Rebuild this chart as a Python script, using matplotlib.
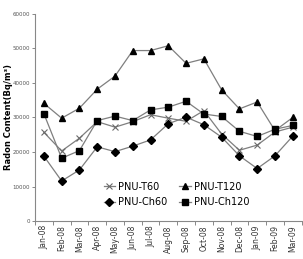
import numpy as np
import matplotlib.pyplot as plt

# Meses
months = ['Jan-08', 'Feb-08', 'Mar-08', 'Apr-08', 'May-08', 'Jun-08', 'Jul-08',
          'Aug-08', 'Sep-08', 'Oct-08', 'Nov-08', 'Dec-08', 'Jan-09', 'Feb-09', 'Mar-09']

# Series (Bq/m3)
t60 = [25700, 20300, 24000, 28800, 27200, 28800, 30800, 29800, 28900, 32000, 25200, 20500, 22000, 25800, 27200]
t120 = [34100, 29800, 32700, 38200, 42000, 49400, 49400, 50800, 45700, 47000, 38000, 32500, 34500, 26200, 30000]
ch60 = [18800, 11600, 14800, 21500, 20100, 21700, 23500, 28200, 30100, 27900, 24300, 18900, 15200, 18900, 24600]
ch120 = [31100, 18200, 20400, 29100, 30400, 29100, 32200, 33000, 34700, 31000, 30300, 26000, 24500, 26600, 27700]

fig = plt.figure(figsize=(3.03, 2.59), dpi=100)
ax = fig.add_axes([0.1155, 0.1467, 0.88, 0.7993])

x = np.arange(len(months))
line_c = '#7f7f7f'
h1, = ax.plot(x, t60, color=line_c, lw=0.9, marker='x', ms=5, mec='#6a6a6a', mew=0.8, label='PNU-T60')
h2, = ax.plot(x, t120, color=line_c, lw=0.9, marker='^', ms=5, mfc='black', mec='black', label='PNU-T120')
h3, = ax.plot(x, ch60, color=line_c, lw=0.9, marker='D', ms=3.6, mfc='black', mec='black', label='PNU-Ch60')
h4, = ax.plot(x, ch120, color=line_c, lw=0.9, marker='s', ms=4, mfc='black', mec='black', label='PNU-Ch120')

ax.set_xlim(-0.5, len(months) - 0.5)
ax.set_ylim(0, 60000)
ax.set_yticks(np.arange(0, 60001, 10000))
ax.set_xticks(x)
ax.set_xticklabels(months, rotation=90, fontsize=5.5, color='#333333')
ax.set_xticks(np.arange(-0.5, len(months), 1), minor=True)
ax.tick_params(axis='x', which='major', length=0, pad=3)
ax.tick_params(axis='x', which='minor', length=3, color='#888888', width=0.7)
ax.tick_params(axis='y', labelsize=4, colors='#555555', length=2.5, width=0.7, pad=1.2)
ax.tick_params(axis='y', color='#888888')

for s in ['top', 'right']:
    ax.spines[s].set_visible(False)
for s in ['left', 'bottom']:
    ax.spines[s].set_color('#888888')
    ax.spines[s].set_linewidth(0.8)

ax.set_ylabel('Radon Content(Bq/m³)', fontsize=6, fontweight='bold')
ax.yaxis.set_label_coords(-0.084, 0.5)

ax.legend([h1, h3, h2, h4], ['PNU-T60', 'PNU-Ch60', 'PNU-T120', 'PNU-Ch120'],
          loc='center', bbox_to_anchor=(0.53, 0.128), ncol=2, frameon=False,
          fontsize=7, handlelength=1.2, handletextpad=0.3, columnspacing=1.2,
          labelspacing=0.6, borderaxespad=0)

fig.savefig('out.png', dpi=100)
